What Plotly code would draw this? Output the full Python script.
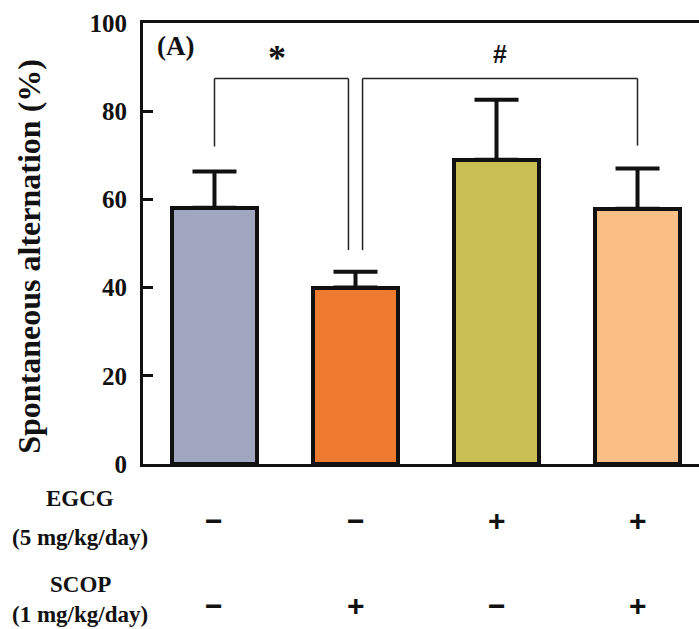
import plotly.graph_objects as go

# ---- data ----
groups = [0, 1, 2, 3]
means = [58.1, 40.0, 69.0, 57.9]
sem = [8.2, 3.6, 13.6, 9.1]
colors = ["#A1A6C1", "#EE7B30", "#C8BF52", "#F9BF85"]
egcg_signs = ["\u2212", "\u2212", "+", "+"]
scop_signs = ["\u2212", "+", "\u2212", "+"]
y_ticks = [0, 20, 40, 60, 80, 100]

# significance brackets: (x_left, x_right, y_left_end, y_right_end, y_top, label)
brackets = [
    (0.0, 0.95, 72.0, 48.5, 87.4, "*"),
    (1.05, 3.0, 48.5, 72.2, 87.4, "#"),
]

serif = "Liberation Serif, Times New Roman, serif"
sans = "Liberation Sans, Arial, sans-serif"
ink = "#111111"

def sfont(size, fam=serif):
    return dict(family=fam, size=size, color=ink, weight="bold")

fig = go.Figure()
fig.add_trace(go.Bar(
    x=groups, y=means, width=0.6,
    marker=dict(color=colors, line=dict(color=ink, width=4)),
    error_y=dict(type="data", array=sem, arrayminus=[0]*4, symmetric=False,
                 color=ink, thickness=4, width=22),
    showlegend=False,
))

shapes = []
annotations = []
for xl, xr, yl, yr, yt, lab in brackets:
    for (x0, y0, x1, y1) in [(xl, yl, xl, yt), (xl, yt, xr, yt), (xr, yt, xr, yr)]:
        shapes.append(dict(type="line", xref="x", yref="y", x0=x0, y0=y0, x1=x1, y1=y1,
                           line=dict(color="#222222", width=1.5)))
    if lab == "*":
        annotations.append(dict(x=(xl + xr) / 2 - 0.035, y=92.0, xref="x", yref="y", text=lab,
                                showarrow=False, font=sfont(36, serif)))
    else:
        annotations.append(dict(x=(xl + xr) / 2, y=93.0, xref="x", yref="y", text=lab,
                                showarrow=False, font=sfont(25, sans)))

annotations.append(dict(x=-0.28, y=94.7, xref="x", yref="y", text="(A)", showarrow=False,
                        font=sfont(27)))

# y title
annotations.append(dict(x=(29 - 143) / 556, y=0.47, xref="paper", yref="paper",
                        text="Spontaneous alternation (%)", textangle=-90, showarrow=False,
                        xanchor="center", yanchor="middle", font=sfont(32)))

def py(pix):
    return (464 - pix) / 441

label_x = (80 - 143) / 556
for txt, pix in [("EGCG", 498), ("(5 mg/kg/day)", 537), ("SCOP", 584), ("(1 mg/kg/day)", 614)]:
    annotations.append(dict(x=label_x, y=py(pix), xref="paper", yref="paper", text=txt,
                            showarrow=False, xanchor="center", yanchor="middle", font=sfont(23)))

for signs, pix in [(egcg_signs, 520), (scop_signs, 605)]:
    for g, s in zip(groups, signs):
        annotations.append(dict(x=g, y=py(pix), xref="x", yref="paper", text=s,
                                showarrow=False, xanchor="center", yanchor="middle",
                                font=sfont(30, sans)))

fig.update_layout(
    width=699, height=629,
    margin=dict(l=143, r=0, t=23, b=165),
    paper_bgcolor="white", plot_bgcolor="white",
    shapes=shapes, annotations=annotations,
    xaxis=dict(range=[-0.507, 3.436], showticklabels=False, ticks="", showgrid=False,
               zeroline=False, showline=True, linecolor=ink, linewidth=3, mirror=True),
    yaxis=dict(range=[0, 100], tickvals=y_ticks, ticks="inside", ticklen=10, tickwidth=3,
               tickcolor=ink, showgrid=False, zeroline=False, showline=True,
               linecolor=ink, linewidth=3,
               tickfont=sfont(25),
               ticklabelstandoff=8),
    bargap=0,
)

fig.write_html("out.html")
